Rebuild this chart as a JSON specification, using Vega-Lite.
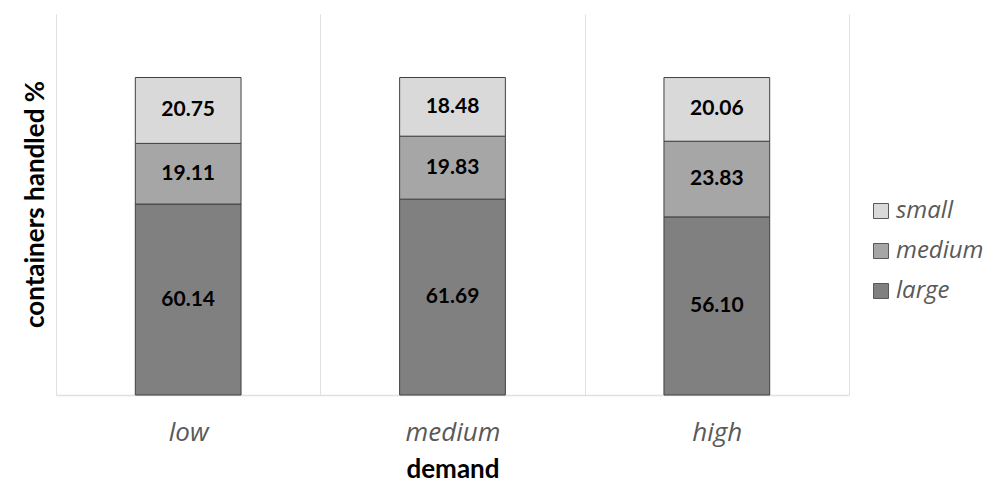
{
  "$schema": "https://vega.github.io/schema/vega-lite/v6.json",
  "width": 793,
  "height": 381,
  "autosize": "none",
  "padding": {"left": 56, "top": 14, "right": 146, "bottom": 104},
  "background": "white",
  "config": {"view": {"stroke": null}, "font": "Lato"},
  "data": {
    "values": [
      {"demand": "low", "size": "large", "value": 60.14},
      {"demand": "low", "size": "medium", "value": 19.11},
      {"demand": "low", "size": "small", "value": 20.75},
      {"demand": "medium", "size": "large", "value": 61.69},
      {"demand": "medium", "size": "medium", "value": 19.83},
      {"demand": "medium", "size": "small", "value": 18.48},
      {"demand": "high", "size": "large", "value": 56.10},
      {"demand": "high", "size": "medium", "value": 23.83},
      {"demand": "high", "size": "small", "value": 20.06}
    ]
  },
  "encoding": {
    "x": {
      "field": "demand",
      "type": "nominal",
      "sort": ["low", "medium", "high"],
      "scale": {"paddingInner": 0, "paddingOuter": 0},
      "axis": {
        "title": "demand",
        "labelAngle": 0,
        "tickBand": "extent",
        "grid": true,
        "gridColor": "#e0e0e0",
        "gridWidth": 1,
        "domainColor": "#e0e0e0",
        "domainWidth": 1.5,
        "ticks": false,
        "labelFont": "Open Sans",
        "labelFontStyle": "italic",
        "labelFontSize": 26,
        "labelColor": "#595959",
        "labelBaseline": "alphabetic",
        "labelPadding": 45,
        "titleFont": "Lato",
        "titleFontSize": 26,
        "titleFontWeight": "bold",
        "titleColor": "black",
        "titleBaseline": "alphabetic",
        "titleY": 82
      }
    }
  },
  "layer": [
    {
      "mark": {"type": "bar", "stroke": "#404040", "strokeWidth": 1, "width": {"band": 0.4}},
      "encoding": {
        "y": {
          "field": "value",
          "type": "quantitative",
          "stack": "zero",
          "scale": {"domain": [0, 120]},
          "axis": {
            "title": "containers handled %",
            "labels": false,
            "ticks": false,
            "domain": false,
            "grid": false,
            "titleFont": "Lato",
            "titleFontSize": 26,
            "titleFontWeight": "bold",
            "titleColor": "black",
            "titleBaseline": "alphabetic",
            "titleX": -13,
            "titleY": 190
          }
        },
        "color": {
          "field": "size",
          "type": "nominal",
          "scale": {"domain": ["small", "medium", "large"], "range": ["#d9d9d9", "#a6a6a6", "#808080"]},
          "legend": {
            "title": null,
            "orient": "none",
            "legendX": 813,
            "legendY": 185,
            "padding": 0,
            "symbolType": "square",
            "symbolSize": 225,
            "symbolStrokeColor": "#595959",
            "symbolStrokeWidth": 1,
            "labelFont": "Open Sans",
            "labelFontStyle": "italic",
            "labelFontSize": 24,
            "labelColor": "#595959",
            "labelOffset": 3,
            "rowPadding": 16
          }
        },
        "order": {"field": "size", "sort": "ascending"}
      }
    },
    {
      "transform": [
        {"stack": "value", "groupby": ["demand"], "sort": [{"field": "size", "order": "ascending"}], "as": ["v0", "v1"]},
        {"calculate": "(datum.v0 + datum.v1) / 2", "as": "mid"}
      ],
      "mark": {"type": "text", "fontWeight": "bold", "fontSize": 21, "font": "Lato", "color": "black", "baseline": "middle"},
      "encoding": {
        "y": {"field": "mid", "type": "quantitative"},
        "text": {"field": "value", "type": "quantitative", "format": ".2f"}
      }
    }
  ]
}
